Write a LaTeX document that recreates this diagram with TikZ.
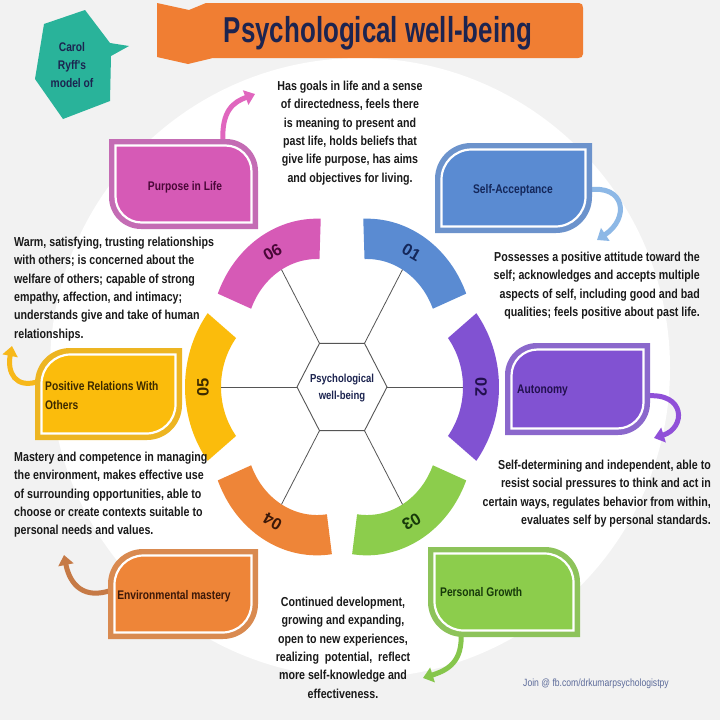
\documentclass[tikz,border=0pt]{standalone}
\usepackage{fontspec}
\setmainfont{Liberation Sans}
\newfontfamily\nar{Liberation Sans}[FakeStretch=0.82]
\newfontfamily\tnar{Liberation Sans}[FakeStretch=0.72]
\usetikzlibrary{arrows.meta}
\definecolor{bgc}{HTML}{F2F2F2}
\definecolor{c01}{HTML}{5A8BD2}
\definecolor{c02}{HTML}{8152D2}
\definecolor{c03}{HTML}{8CCD4C}
\definecolor{c04}{HTML}{EE8538}
\definecolor{c05}{HTML}{FBBC0C}
\definecolor{c06}{HTML}{D65AB6}
\definecolor{b01}{HTML}{6C93CC}
\definecolor{b02}{HTML}{8B68CC}
\definecolor{b03}{HTML}{8DC35A}
\definecolor{b04}{HTML}{D98A50}
\definecolor{b05}{HTML}{EDB522}
\definecolor{b06}{HTML}{C46CB4}
\definecolor{a01}{HTML}{8DB8E6}
\definecolor{a02}{HTML}{9050D8}
\definecolor{a03}{HTML}{86C64C}
\definecolor{a04}{HTML}{C67A46}
\definecolor{a05}{HTML}{F7B81A}
\definecolor{a06}{HTML}{E066BE}
\definecolor{t01}{HTML}{14275A}
\definecolor{t02}{HTML}{22104E}
\definecolor{t03}{HTML}{173A0A}
\definecolor{t04}{HTML}{3C1808}
\definecolor{t05}{HTML}{3C2A00}
\definecolor{t06}{HTML}{4A0838}
\definecolor{txt}{HTML}{1A1A1A}
\definecolor{navy}{HTML}{1C2450}
\definecolor{tealc}{HTML}{29B39A}
\definecolor{ttl}{HTML}{F07E33}
\definecolor{foot}{HTML}{5C6B9A}
\definecolor{spk}{HTML}{555555}

% leaf shape, rounded top-left and bottom-right
\newcommand\leafTL[6]{\fill[#6] (#1,#4) -- (#1,{#2+#5}) .. controls (#1,{#2+0.448*#5}) and ({#1+0.448*#5},#2) .. ({#1+#5},#2) -- (#3,#2) -- (#3,{#4-#5}) .. controls (#3,{#4-0.448*#5}) and ({#3-0.448*#5},#4) .. ({#3-#5},#4) -- cycle;}
% leaf shape, rounded top-right and bottom-left
\newcommand\leafTR[6]{\fill[#6] (#1,#2) -- ({#3-#5},#2) .. controls ({#3-0.448*#5},#2) and (#3,{#2+0.448*#5}) .. (#3,{#2+#5}) -- (#3,#4) -- ({#1+#5},#4) .. controls ({#1+0.448*#5},#4) and (#1,{#4-0.448*#5}) .. (#1,{#4-#5}) -- cycle;}
\newcommand\boxTL[7]{%
 \leafTL{#1}{#2}{#3}{#4}{#5}{#6}%
 \pgfmathsetmacro\lxa{#1+6.5}\pgfmathsetmacro\lya{#2+6.5}\pgfmathsetmacro\lxb{#3-6.5}\pgfmathsetmacro\lyb{#4-6.5}\pgfmathsetmacro\lrr{#5-6}%
 \leafTL{\lxa}{\lya}{\lxb}{\lyb}{\lrr}{#7,draw=white,line width=2.2pt}}
\newcommand\boxTR[7]{%
 \leafTR{#1}{#2}{#3}{#4}{#5}{#6}%
 \pgfmathsetmacro\lxa{#1+6.5}\pgfmathsetmacro\lya{#2+6.5}\pgfmathsetmacro\lxb{#3-6.5}\pgfmathsetmacro\lyb{#4-6.5}\pgfmathsetmacro\lrr{#5-6}%
 \leafTR{\lxa}{\lya}{\lxb}{\lyb}{\lrr}{#7,draw=white,line width=2.2pt}}
% curved band around the hexagon: angle, colour, name, start offset, end offset
\newcommand\band[5]{%
  \pgfmathsetmacro\bcx{342+50*cos(#1)}%
  \pgfmathsetmacro\bcy{387+1.12*50*sin(#1)}%
  \pgfmathsetmacro\bda{#1+#4}%
  \pgfmathsetmacro\bdb{#1+#5}%
  \fill[#2] plot[domain=\bda:\bdb,samples=40] ({\bcx+71*cos(\x)},{\bcy+1.12*71*sin(\x)}) -- plot[domain=\bdb:\bda,samples=40] ({\bcx+107*cos(\x)},{\bcy+1.12*107*sin(\x)}) -- cycle;
  \coordinate (#3in) at ({342+121*cos(#1)},{387+1.12*121*sin(#1)});
  \coordinate (#3v) at ({342+45*cos(#1)},{387+1.12*45*sin(#1)});
  \coordinate (#3lab) at ({342+139*cos(#1)},{387+1.12*139*sin(#1)});}

\begin{document}
\begin{tikzpicture}[x=1pt,y=-1pt,
  body/.style={font=\nar\bfseries\fontsize{13}{18.3}\selectfont, text=txt, inner sep=0pt},
  boxlab/.style={font=\nar\bfseries\fontsize{12.5}{18.5}\selectfont, inner sep=0pt},
  numlab/.style={font=\bfseries\fontsize{16.5}{18}\selectfont, inner sep=0pt},
  spoke/.style={draw=spk, line width=0.8pt},
  callarr/.style={line width=5pt, -{Triangle[length=10pt,width=15pt]}},
]
\useasboundingbox (0,0) rectangle (720,720);
\fill[bgc] (0,0) rectangle (720,720);
\fill[white] (360,368) circle[radius=310];

% title banner
\fill[ttl] (157,3) -- (189,10) -- (206,3) -- (579,3) .. controls (582,3) and (583,5) .. (583,8) -- (583,54) .. controls (583,57) and (581,58) .. (578,58) -- (213,58) -- (188,64) -- (157,57) -- cycle;
\node[font=\tnar\bfseries\fontsize{36}{40}\selectfont, text=navy, inner sep=0pt, anchor=base] (title) at (378,42) {Psychological well-being};

% Carol Ryff's badge
\fill[tealc] (44,24) -- (85,10) -- (110,43) -- (129,46) -- (111,56) -- (110,101) -- (63,119) -- (35,79) -- cycle;
\node[font=\nar\bfseries\fontsize{12.5}{18.2}\selectfont, text=navy, align=center, inner sep=0pt] (carol) at (72,65) {Carol\\Ryff's\\model of};

% bands
\band{-60}{c01}{b1}{-32}{38}
\band{0}{c02}{b2}{-38}{38}
\band{60}{c03}{b3}{-38}{38}
\band{120}{c04}{b4}{-38}{38}
\band{180}{c05}{b5}{-38}{38}
\band{-120}{c06}{b6}{-38}{32}

% hexagon and spokes
\draw[draw=spk, line width=0.9pt, fill=white] (b1v) -- (b2v) -- (b3v) -- (b4v) -- (b5v) -- (b6v) -- cycle;
\foreach \k in {1,...,6} { \draw[spoke] (b\k v) -- (b\k in); }
\node[font=\nar\bfseries\fontsize{11.6}{17}\selectfont, text=navy, align=center, inner sep=0pt] (hexc) at (342,388) {Psychological\\well-being};

% band numbers
\node[numlab, text=t01, rotate=-30] (n01) at (b1lab) {01};
\node[numlab, text=t02, rotate=-90] (n02) at (b2lab) {02};
\node[numlab, text=t03, rotate=-150] (n03) at (b3lab) {03};
\node[numlab, text=t04, rotate=150] (n04) at (b4lab) {04};
\node[numlab, text=t05, rotate=90] (n05) at (b5lab) {05};
\node[numlab, text=t06, rotate=30] (n06) at (b6lab) {06};

% callout arrows
\coordinate (a6s) at (223,143); \coordinate (a6e) at (255,94);
\draw[callarr, a06] (a6s) .. controls (221,110) and (234,102) .. (a6e);
\coordinate (a1s) at (588,190); \coordinate (a1e) at (597,240);
\draw[callarr, a01] (a1s) .. controls (625,184) and (630,218) .. (a1e);
\coordinate (a2s) at (646,396); \coordinate (a2e) at (654,438);
\draw[callarr, a02] (a2s) .. controls (686,392) and (686,428) .. (a2e);
\coordinate (a3s) at (461,632); \coordinate (a3e) at (423,678);
\draw[callarr, a03] (a3s) .. controls (463,662) and (448,670) .. (a3e);
\coordinate (a4s) at (112,590); \coordinate (a4e) at (64,555);
\draw[callarr, a04] (a4s) .. controls (84,600) and (70,585) .. (a4e);
\coordinate (a5s) at (40,381); \coordinate (a5e) at (12,346);
\draw[callarr, a05] (a5s) .. controls (15,390) and (7,372) .. (a5e);

% leaf boxes
\boxTR{109}{139}{258}{229}{32}{b06}{c06}
\boxTL{435}{143}{592}{233}{36}{b01}{c01}
\boxTL{505}{343}{650}{435}{32}{b02}{c02}
\boxTR{428}{547}{580}{637}{35}{b03}{c03}
\boxTL{108}{549}{258}{639}{35}{b04}{c04}
\boxTL{35}{348}{182}{440}{35}{b05}{c05}

\node[boxlab, text=t06] (purpose) at (185,187) {Purpose in Life};
\node[boxlab, text=t01] (selfacc) at (513,190) {Self-Acceptance};
\node[boxlab, text=t02, anchor=west] (auton) at (517,390) {Autonomy};
\node[boxlab, text=t03, anchor=west] (growth) at (440,592) {Personal Growth};
\node[boxlab, text=t04] (envm) at (174,596) {Environmental mastery};
\node[boxlab, text=t05, anchor=west, align=left] (posrel) at (45,395.5) {Positive Relations With\\Others};

% descriptions
\node[body, align=center, anchor=north] (dpurpose) at (350,81) {Has goals in life and a sense\\of directedness, feels there\\is meaning to present and\\past life, holds beliefs that\\give life purpose, has aims\\and objectives for living.};
\node[body, align=right, anchor=north east] (dself) at (700,252) {Possesses a positive attitude toward the\\self; acknowledges and accepts multiple\\aspects of self, including good and bad\\qualities; feels positive about past life.};
\node[body, align=right, anchor=north east] (dauton) at (711,460) {Self-determining and independent, able to\\resist social pressures to think and act in\\certain ways, regulates behavior from within,\\evaluates self by personal standards.};
\node[body, align=center, anchor=north] (dgrowth) at (343,597) {Continued development,\\growing and expanding,\\open to new experiences,\\realizing~ potential,~ reflect\\more self-knowledge and\\effectiveness.};
\node[body, align=left, anchor=north west] (dpos) at (14,237) {Warm, satisfying, trusting relationships\\with others; is concerned about the\\welfare of others; capable of strong\\empathy, affection, and intimacy;\\understands give and take of human\\relationships.};
\node[body, align=left, anchor=north west] (denv) at (14,452) {Mastery and competence in managing\\the environment, makes effective use\\of surrounding opportunities, able to\\choose or create contexts suitable to\\personal needs and values.};

\node[font=\nar\fontsize{10.5}{12}\selectfont, text=foot, anchor=west, inner sep=0pt] (foot) at (523,684) {Join @ fb.com/drkumarpsychologistpy};
\end{tikzpicture}
\end{document}
